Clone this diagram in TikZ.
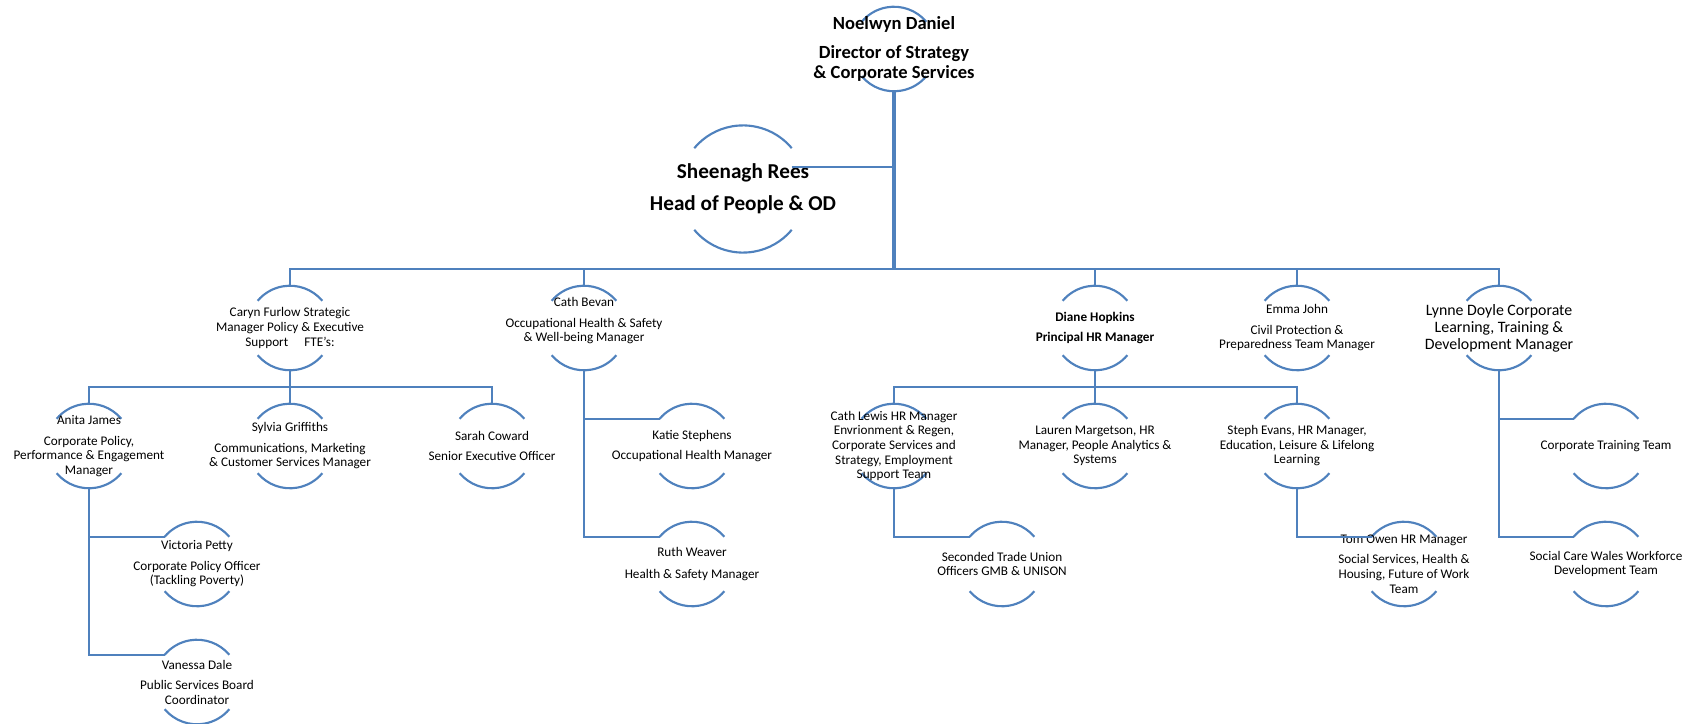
\documentclass[tikz,border=0pt]{standalone}
\usepackage{fontspec}
\setmainfont{Carlito}
\usetikzlibrary{calc}
\definecolor{orgblue}{HTML}{4F81BD}
\tikzset{
   ring/.style={circle, inner sep=0pt, minimum size=63pt},
   bigring/.style={circle, inner sep=0pt, minimum size=95pt},
   txt/.style={align=center, inner sep=0pt, font=\fontsize{9.9}{10.9}\selectfont},
   arcline/.style={draw=orgblue, line width=1.6pt},
   link/.style={draw=orgblue, line width=1.6pt},
   buslink/.style={draw=orgblue, line width=2pt},
   trunk/.style={draw=orgblue, line width=2.5pt},
}

\begin{document}
\begin{tikzpicture}[x=0.75pt,y=-0.75pt]
\useasboundingbox (0,0) rectangle (1703,724);

% rings
\node[ring] (nd) at (894,49) {};
\node[bigring] (sr) at (743,189) {};

\node[ring] (cf) at (290,328) {};
\node[ring] (cb) at (584,328) {};
\node[ring] (dh) at (1095,328) {};
\node[ring] (ej) at (1297,328) {};
\node[ring] (ld) at (1499,328) {};

\node[ring] (aj) at (89,446) {};
\node[ring] (sg) at (290,446) {};
\node[ring] (sc) at (492,446) {};
\node[ring] (ks) at (692,446) {};
\node[ring] (cl) at (894,446) {};
\node[ring] (lm) at (1095,446) {};
\node[ring] (se) at (1297,446) {};
\node[ring] (ctt) at (1606,446) {};

\node[ring] (vp) at (197,564) {};
\node[ring] (rw) at (692,564) {};
\node[ring] (st) at (1002,564) {};
\node[ring] (tow) at (1404,564) {};
\node[ring] (scw) at (1606,564) {};

\node[ring] (vd) at (197,682) {};

\foreach \who in {nd,sr,cf,cb,dh,ej,ld,aj,sg,sc,ks,cl,lm,se,ctt,vp,rw,st,tow,scw,vd}
  \draw[arcline] let \p1=($(\who.east)-(\who.center)$) in
    (\who.40) arc[start angle=40,end angle=140,radius=\x1]
    (\who.220) arc[start angle=220,end angle=320,radius=\x1];

% texts
\node[txt, font=\bfseries\fontsize{13.9}{15}\selectfont] (nd-t) at (nd)
  {Noelwyn Daniel\\[6.5pt]Director of Strategy\\\& Corporate Services};
\node[txt, font=\bfseries\fontsize{15.9}{18}\selectfont] (sr-t) at (sr)
  {Sheenagh Rees\\[6pt]Head of People \& OD};

\node[txt] (cf-t) at (cf) {Caryn Furlow Strategic\\Manager Policy \& Executive\\Support\quad\ FTE's:};
\node[txt] (cb-t) at ($(cb)+(0,-7)$) {Cath Bevan\\[4.5pt]Occupational Health \& Safety\\\& Well-being Manager};
\node[txt, font=\bfseries\fontsize{9.9}{10.9}\selectfont] (dh-t) at (dh) {Diane Hopkins\\[4.5pt]Principal HR Manager};
\node[txt] (ej-t) at (ej) {Emma John\\[4.5pt]Civil Protection \&\\Preparedness Team Manager};
\node[txt, font=\fontsize{11.9}{12.8}\selectfont] (ld-t) at (ld) {Lynne Doyle Corporate\\Learning, Training \&\\Development Manager};

\node[txt] (aj-t) at (aj) {Anita James\\[4.5pt]Corporate Policy,\\Performance \& Engagement\\Manager};
\node[txt] (sg-t) at (sg) {Sylvia Griffiths\\[4.5pt]Communications, Marketing\\\& Customer Services Manager};
\node[txt] (sc-t) at (sc) {Sarah Coward\\[4.5pt]Senior Executive Officer};
\node[txt] (ks-t) at (ks) {Katie Stephens\\[4.5pt]Occupational Health Manager};
\node[txt] (cl-t) at (cl) {Cath Lewis HR Manager\\Envrionment \& Regen,\\Corporate Services and\\Strategy, Employment\\Support Team};
\node[txt] (lm-t) at (lm) {Lauren Margetson, HR\\Manager, People Analytics \&\\Systems};
\node[txt] (se-t) at (se) {Steph Evans, HR Manager,\\Education, Leisure \& Lifelong\\Learning};
\node[txt] (ctt-t) at (ctt) {Corporate Training Team};

\node[txt] (vp-t) at (vp) {Victoria Petty\\[4.5pt]Corporate Policy Officer\\(Tackling Poverty)};
\node[txt] (rw-t) at (rw) {Ruth Weaver\\[5pt]Health \& Safety Manager};
\node[txt] (st-t) at (st) {Seconded Trade Union\\Officers GMB \& UNISON};
\node[txt] (tow-t) at (tow) {Tom Owen HR Manager\\[4.5pt]Social Services, Health \&\\Housing, Future of Work\\Team};
\node[txt] (scw-t) at (scw) {Social Care Wales Workforce\\Development Team};
\node[txt] (vd-t) at (vd) {Vanessa Dale\\[4.5pt]Public Services Board\\Coordinator};

% lines
\coordinate (bus) at (894,269);
\coordinate (srlink) at ($(sr.40)+(0,19)$);
\draw[trunk] (nd.south) -- (bus);
\draw[buslink] (srlink) -- (srlink -| bus);
\foreach \who in {cf,cb,dh,ej,ld}
  \draw[buslink] (bus) -| (\who.north);

\foreach \who in {aj,sg,sc}
  \draw[link] (cf.south) |- ($(cf.south)!.5!(\who.north)$) -| (\who.north);
\foreach \who in {cl,lm,se}
  \draw[link] (dh.south) |- ($(dh.south)!.5!(\who.north)$) -| (\who.north);

\foreach \up/\who in {aj/vp,aj/vd,cb/ks,cb/rw,cl/st,se/tow,ld/ctt,ld/scw}
  \draw[link] (\up.south) |- (\who.140);

\end{tikzpicture}
\end{document}
